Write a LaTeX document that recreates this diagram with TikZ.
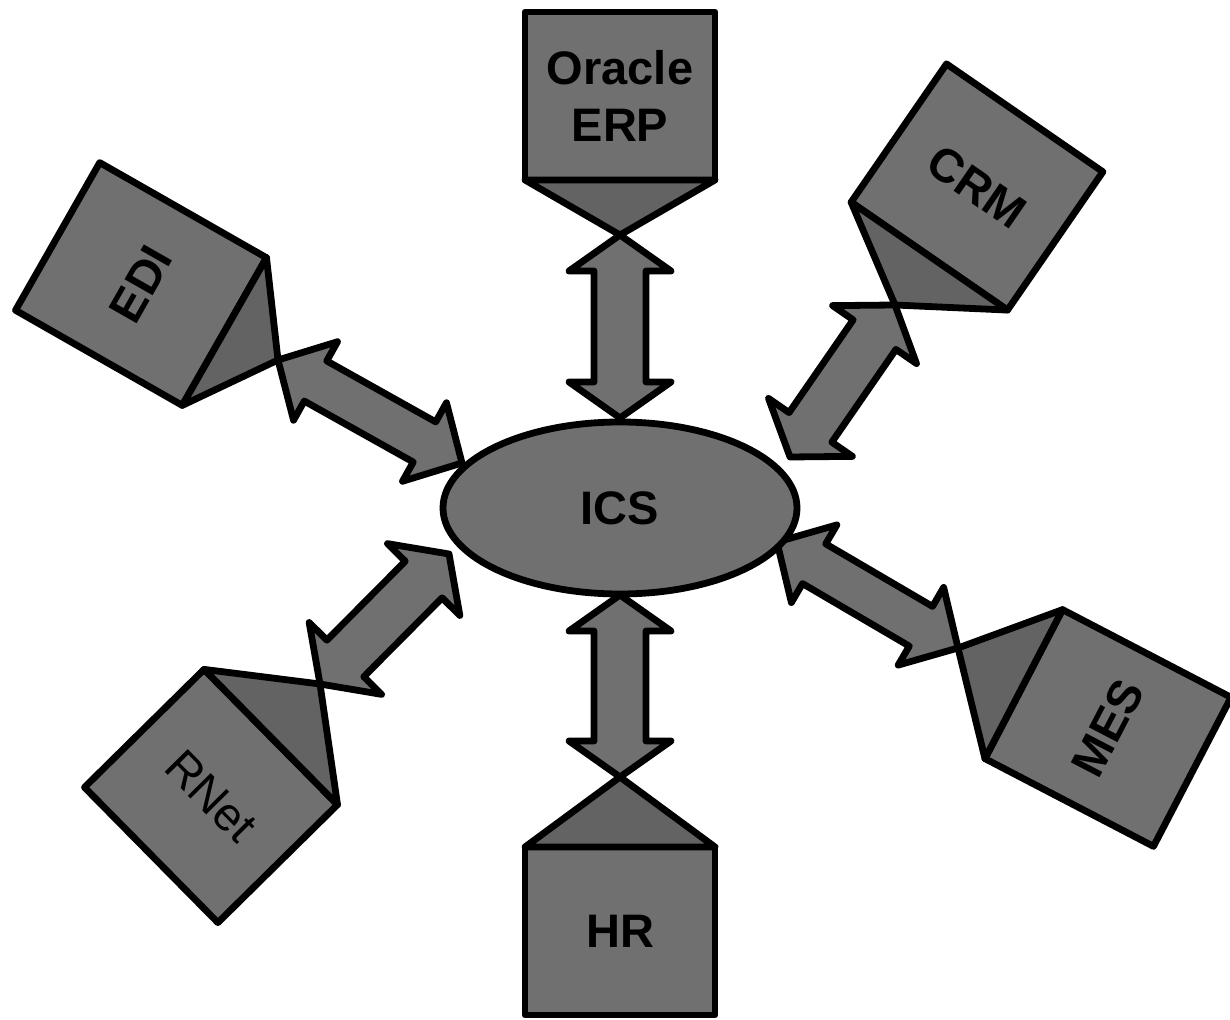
\documentclass[tikz,border=0pt]{standalone}
\usepackage{fontspec}
\setmainfont{Liberation Sans}
\usetikzlibrary{calc,shapes.geometric}

\definecolor{boxgray}{gray}{0.44}
\definecolor{wedgegray}{gray}{0.39}

% block arrow with a head at both ends: from, to, head length, head half width, shaft half width
\newcommand{\biarrow}[5]{%
    \coordinate (h1) at ($(#1)!#3!(#2)$);
    \coordinate (h2) at ($(#2)!#3!(#1)$);
    \draw[flow] (#1) -- ($(h1)!#4!90:(#2)$) -- ($(h1)!#5!90:(#2)$)
        -- ($(h2)!#5!-90:(#1)$) -- ($(h2)!#4!-90:(#1)$) -- (#2)
        -- ($(h2)!#4!90:(#1)$) -- ($(h2)!#5!90:(#1)$)
        -- ($(h1)!#5!-90:(#2)$) -- ($(h1)!#4!-90:(#2)$) -- cycle;
}

\begin{document}
\begin{tikzpicture}[x=0.5pt, y=-0.5pt, line width=3.4pt, line join=round,
    box/.style={draw, fill=boxgray, minimum width=95pt, minimum height=84pt,
        inner sep=0pt, outer sep=0pt, align=center,
        font=\fontsize{23.5}{28.5}\selectfont\bfseries},
    plain/.style={font=\fontsize{23.5}{28.5}\selectfont},
    wedge/.style={draw, fill=wedgegray},
    flow/.style={draw, fill=boxgray}]
    \useasboundingbox (0,0) rectangle (1230,1020);

    % Draw the six connected systems
    \node[box] (erp) at (620,96) {Oracle\\ERP};
    \node[box] (hr) at (620,931) {\raisebox{-3pt}{HR}};
    \node[box, rotate=-34.6] (crm) at (977,187) {CRM};
    \node[box, plain, rotate=-45.4] (rnet) at (211,796) {RNet};
    \node[box, rotate=60.3, minimum width=85pt, minimum height=96pt] (edi) at (141,284) {EDI};
    \node[box, rotate=62.5, minimum width=84pt, minimum height=95pt] (mes) at (1108,728) {MES};

    % Points where each wedge crosses its arrow
    \coordinate (erpX) at (620,235);
    \coordinate (hrX) at (620,777);
    \coordinate (crmX) at (895,305);
    \coordinate (rnetX) at (320,684);
    \coordinate (ediX) at (278,360);
    \coordinate (mesX) at (958,648);

    % Arrow ends next to the hub
    \coordinate (erpE) at (620,418);
    \coordinate (hrE) at (620,595);
    \coordinate (crmE) at (790,457);
    \coordinate (rnetE) at (449,554);
    \coordinate (ediE) at (462,463);
    \coordinate (mesE) at (777,542);

    % Draw the wedges under each box
    \draw[wedge] (erp.south west) -- (erp.south east) -- (erpX) -- cycle;
    \draw[wedge] (hr.north west) -- (hr.north east) -- (hrX) -- cycle;
    \draw[wedge] (crm.south west) -- (crm.south east) -- (crmX) -- cycle;
    \draw[wedge] (rnet.north west) -- (rnet.north east) -- (rnetX) -- cycle;
    \draw[wedge] (edi.south east) -- (edi.south west) -- (ediX) -- cycle;
    \draw[wedge] (mes.north west) -- (mes.north east) -- (mesX) -- cycle;

    % Draw the two-way arrows
    \biarrow{erpX}{erpE}{18pt}{25.5pt}{13pt}
    \biarrow{hrX}{hrE}{18pt}{25.5pt}{13pt}
    \biarrow{crmX}{crmE}{18pt}{25.5pt}{13pt}
    \biarrow{rnetX}{rnetE}{18pt}{25.5pt}{13pt}
    \biarrow{ediX}{ediE}{21.5pt}{22.5pt}{11.5pt}
    \biarrow{mesX}{mesE}{21.5pt}{22.5pt}{11.5pt}

    % Draw the hub in the middle
    \node[box, ellipse, minimum width=177pt, minimum height=86pt] (ics) at (620,508) {ICS};
\end{tikzpicture}
\end{document}
